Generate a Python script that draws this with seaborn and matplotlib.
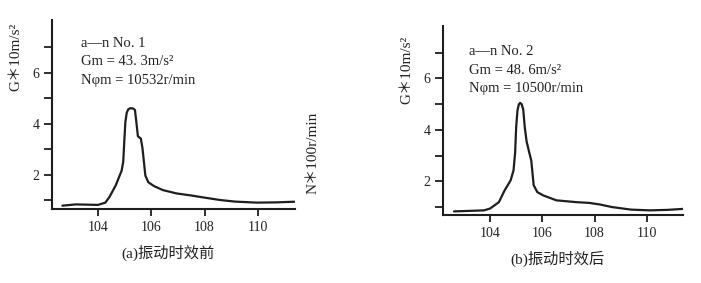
import matplotlib
matplotlib.use("Agg")
import matplotlib.pyplot as plt
import seaborn as sns
import pandas as pd
from matplotlib.ticker import FixedLocator

# ---- data ----
x_a = [102.67, 103.17, 103.6, 104.0, 104.28, 104.44, 104.67, 104.89, 104.95, 104.99,
       105.03, 105.08, 105.14, 105.22, 105.32, 105.39, 105.44, 105.5, 105.61, 105.67, 105.78,
       105.89, 106.1, 106.44, 106.95, 107.5, 107.97, 108.6, 109.14, 109.96, 110.7, 111.5]
g_a = [0.78, 0.83, 0.82, 0.81, 0.90, 1.13, 1.58, 2.15, 2.5, 3.3,
       4.05, 4.42, 4.56, 4.60, 4.59, 4.53, 4.08, 3.50, 3.41, 3.05, 1.96,
       1.70, 1.55, 1.39, 1.26, 1.18, 1.10, 1.00, 0.94, 0.90, 0.91, 0.94]

x_b = [102.62, 103.2, 103.77, 104.0, 104.34, 104.56, 104.79, 104.9, 104.96, 105.0,
       105.05, 105.1, 105.15, 105.21, 105.27, 105.33, 105.4, 105.47, 105.58, 105.67,
       105.81, 106.04, 106.54, 107.3, 107.8, 108.2, 108.66, 109.39, 110.12, 110.8, 111.6]
g_b = [0.83, 0.85, 0.87, 0.94, 1.19, 1.65, 2.04, 2.43, 3.1, 4.1,
       4.75, 4.98, 5.05, 5.0, 4.8, 4.1, 3.55, 3.25, 2.8, 1.85,
       1.58, 1.45, 1.26, 1.19, 1.16, 1.10, 1.00, 0.90, 0.87, 0.89, 0.94]

x_ticks = [104, 106, 108, 110]
y_major = [2, 4, 6]
y_minor = [1, 3, 5, 7]

notes_a = ["a—n No. 1", "Gm = 43. 3m/s²", "Nφm = 10532r/min"]
notes_b = ["a—n No. 2", "Gm = 48. 6m/s²", "Nφm = 10500r/min"]
caption_a = "(a)振动时效前"
caption_b = "(b)振动时效后"
ylabel = "G＊10m/s²"
ylabel2 = "N＊100r/min"

sns.set_theme(style="white")
plt.rcParams['font.family'] = ['Liberation Serif', 'Noto Sans CJK SC']

fig = plt.figure(figsize=(7.01, 2.83), dpi=100)
ax_a = fig.add_axes([0.0742, 0.2615, 0.3466, 0.668])
ax_b = fig.add_axes([0.632, 0.2403, 0.342, 0.668])

fam = ['Liberation Serif', 'Noto Sans CJK SC']
ink = "#1e1e1e"

def style(ax, xlim, ylim, x, g, notes, note_xy):
    sns.lineplot(x=x, y=g, ax=ax, color=ink, linewidth=1.6, sort=False,
                 estimator=None)
    ax.set_xlim(*xlim)
    ax.set_ylim(*ylim)
    for s in ["top", "right"]:
        ax.spines[s].set_visible(False)
    for s in ["left", "bottom"]:
        ax.spines[s].set_color(ink)
        ax.spines[s].set_linewidth(1.5)
    ax.set_xticks(x_ticks)
    ax.set_xticklabels([str(t) for t in x_ticks], fontsize=10, family=fam)
    ax.set_yticks(y_major)
    ax.set_yticklabels([str(t) for t in y_major], fontsize=10, family=fam)
    ax.yaxis.set_minor_locator(FixedLocator(y_minor))
    ax.tick_params(axis="y", which="both", direction="out", length=6, width=1.3,
                   color=ink, pad=3, left=True, labelcolor="#222222")
    ax.tick_params(axis="x", which="major", direction="out", length=5, width=1.3,
                   color=ink, pad=4, bottom=True, labelcolor="#222222")
    ax.set_xlabel("")
    for i, t in enumerate(notes):
        ax.text(note_xy[0], note_xy[1] - i * 0.73, t, fontsize=10.5, family=fam,
                color="#222222", va="center", ha="left")
    ax.grid(False)

style(ax_a, (102.28, 111.39), (0.65, 8.06), x_a, g_a, notes_a, (103.35, 7.15))
style(ax_b, (102.2, 111.38), (0.69, 8.04), x_b, g_b, notes_b, (103.2, 7.05))

fig.text(16 / 701, 1 - 57 / 283, ylabel, rotation=90, fontsize=11, family=fam,
         ha="center", va="center", color="#222222")
fig.text(407 / 701, 1 - 70 / 283, ylabel, rotation=90, fontsize=11, family=fam,
         ha="center", va="center", color="#222222")
fig.text(313 / 701, 1 - 153 / 283, ylabel2, rotation=90, fontsize=11, family=fam,
         ha="center", va="center", color="#222222")
fig.text(168 / 701, 1 - 253 / 283, caption_a, fontsize=11, family=fam,
         ha="center", va="center", color="#222222")
fig.text(557 / 701, 1 - 259 / 283, caption_b, fontsize=11, family=fam,
         ha="center", va="center", color="#222222")

fig.savefig("out.png", dpi=100, facecolor="white")
